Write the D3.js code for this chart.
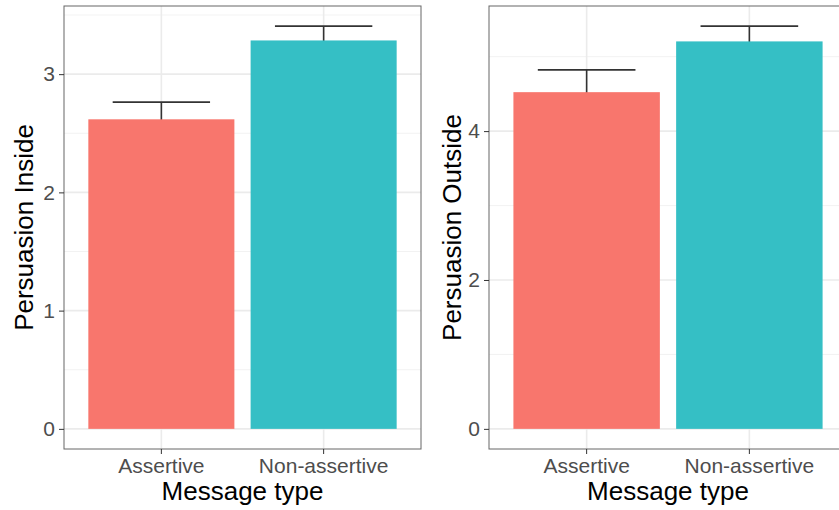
<!DOCTYPE html>
<html>
<head>
<meta charset="utf-8">
<script src="https://cdn.jsdelivr.net/npm/d3@7"></script>
<style>
  body { margin: 0; background: #fff; }
  svg { display: block; font-family: "Liberation Sans", Arial, sans-serif; }
</style>
</head>
<body>
<svg id="chart" width="839" height="510"></svg>
<script>
// data
const categories = ["Assertive", "Non-assertive"];
const barColors = ["#F8766D", "#35BFC5"];

const insideMeans = [2.618, 3.285];
const insideSE = [0.145, 0.121];
const insideTicks = [0, 1, 2, 3];

const outsideMeans = [4.523, 5.205];
const outsideSE = [0.30, 0.205];
const outsideTicks = [0, 2, 4];

const svg = d3.select("#chart");

function drawPanel(opts) {
  const { left, right, top, bottom, means, se, ticks, yTitle, titleX } = opts;

  const x = d3.scaleBand()
      .domain(categories)
      .range([left, right])
      .paddingInner(0.1)
      .paddingOuter(0.15);

  // ggplot style: 5% expansion of the data range
  const yMax = d3.max(means, (d, i) => d + se[i]);
  const pad = yMax * 0.05;
  const y = d3.scaleLinear()
      .domain([-pad, yMax + pad])
      .range([bottom, top]);

  const g = svg.append("g");

  // minor grid
  const step = ticks[1] - ticks[0];
  const minor = ticks.map(t => t + step / 2).filter(v => v < y.domain()[1]);
  g.selectAll(".minor").data(minor).enter().append("line")
      .attr("x1", left).attr("x2", right)
      .attr("y1", d => y(d)).attr("y2", d => y(d))
      .attr("stroke", "#f0f0f0").attr("stroke-width", 0.9);

  // major grid
  g.selectAll(".majorY").data(ticks).enter().append("line")
      .attr("x1", left).attr("x2", right)
      .attr("y1", d => y(d)).attr("y2", d => y(d))
      .attr("stroke", "#ebebeb").attr("stroke-width", 1.6);
  g.selectAll(".majorX").data(categories).enter().append("line")
      .attr("x1", d => x(d) + x.bandwidth() / 2).attr("x2", d => x(d) + x.bandwidth() / 2)
      .attr("y1", top).attr("y2", bottom)
      .attr("stroke", "#ebebeb").attr("stroke-width", 1.6);

  // error bars (drawn first so the bar hides the lower half)
  const ebHalf = x.bandwidth() * (0.6 / 0.9) / 2;
  categories.forEach((c, i) => {
    const cx = x(c) + x.bandwidth() / 2;
    const lo = y(means[i] - se[i]), hi = y(means[i] + se[i]);
    g.append("line").attr("x1", cx).attr("x2", cx).attr("y1", lo).attr("y2", hi)
        .attr("stroke", "#333").attr("stroke-width", 1.6);
    [lo, hi].forEach(v => {
      g.append("line").attr("x1", cx - ebHalf).attr("x2", cx + ebHalf).attr("y1", v).attr("y2", v)
          .attr("stroke", "#333").attr("stroke-width", 1.6);
    });
  });

  // bars
  g.selectAll(".bar").data(means).enter().append("rect")
      .attr("x", (d, i) => x(categories[i]))
      .attr("width", x.bandwidth())
      .attr("y", d => y(d))
      .attr("height", d => y(0) - y(d))
      .attr("fill", (d, i) => barColors[i]);

  // panel border
  g.append("rect")
      .attr("x", left).attr("y", top)
      .attr("width", right - left).attr("height", bottom - top)
      .attr("fill", "none").attr("stroke", "#666").attr("stroke-width", 1);

  // axes
  const yAxis = g.append("g")
      .attr("transform", `translate(${left},0)`)
      .call(d3.axisLeft(y).tickValues(ticks).tickSize(5).tickPadding(4).tickFormat(d3.format("d")));
  yAxis.select(".domain").remove();

  const xAxis = g.append("g")
      .attr("transform", `translate(0,${bottom})`)
      .call(d3.axisBottom(x).tickSize(5).tickPadding(4));
  xAxis.select(".domain").remove();

  [yAxis, xAxis].forEach(a => {
    a.selectAll(".tick line").attr("stroke", "#333").attr("stroke-width", 1);
    a.selectAll(".tick text").attr("fill", "#4d4d4d")
        .style("font-size", "21px").style("font-family", "Liberation Sans, Arial, sans-serif");
  });

  // titles
  g.append("text")
      .attr("x", (left + right) / 2).attr("y", 500)
      .attr("text-anchor", "middle")
      .style("font-size", "26px").attr("fill", "#000")
      .text("Message type");

  g.append("text")
      .attr("transform", `translate(${titleX},${(top + bottom) / 2}) rotate(-90)`)
      .attr("text-anchor", "middle")
      .style("font-size", "26px").attr("fill", "#000")
      .text(yTitle);
}

drawPanel({ left: 64, right: 421, top: 6, bottom: 449,
  means: insideMeans, se: insideSE, ticks: insideTicks,
  yTitle: "Persuasion Inside", titleX: 33 });

drawPanel({ left: 489, right: 847, top: 6, bottom: 449,
  means: outsideMeans, se: outsideSE, ticks: outsideTicks,
  yTitle: "Persuasion Outside", titleX: 461 });
</script>
</body>
</html>
